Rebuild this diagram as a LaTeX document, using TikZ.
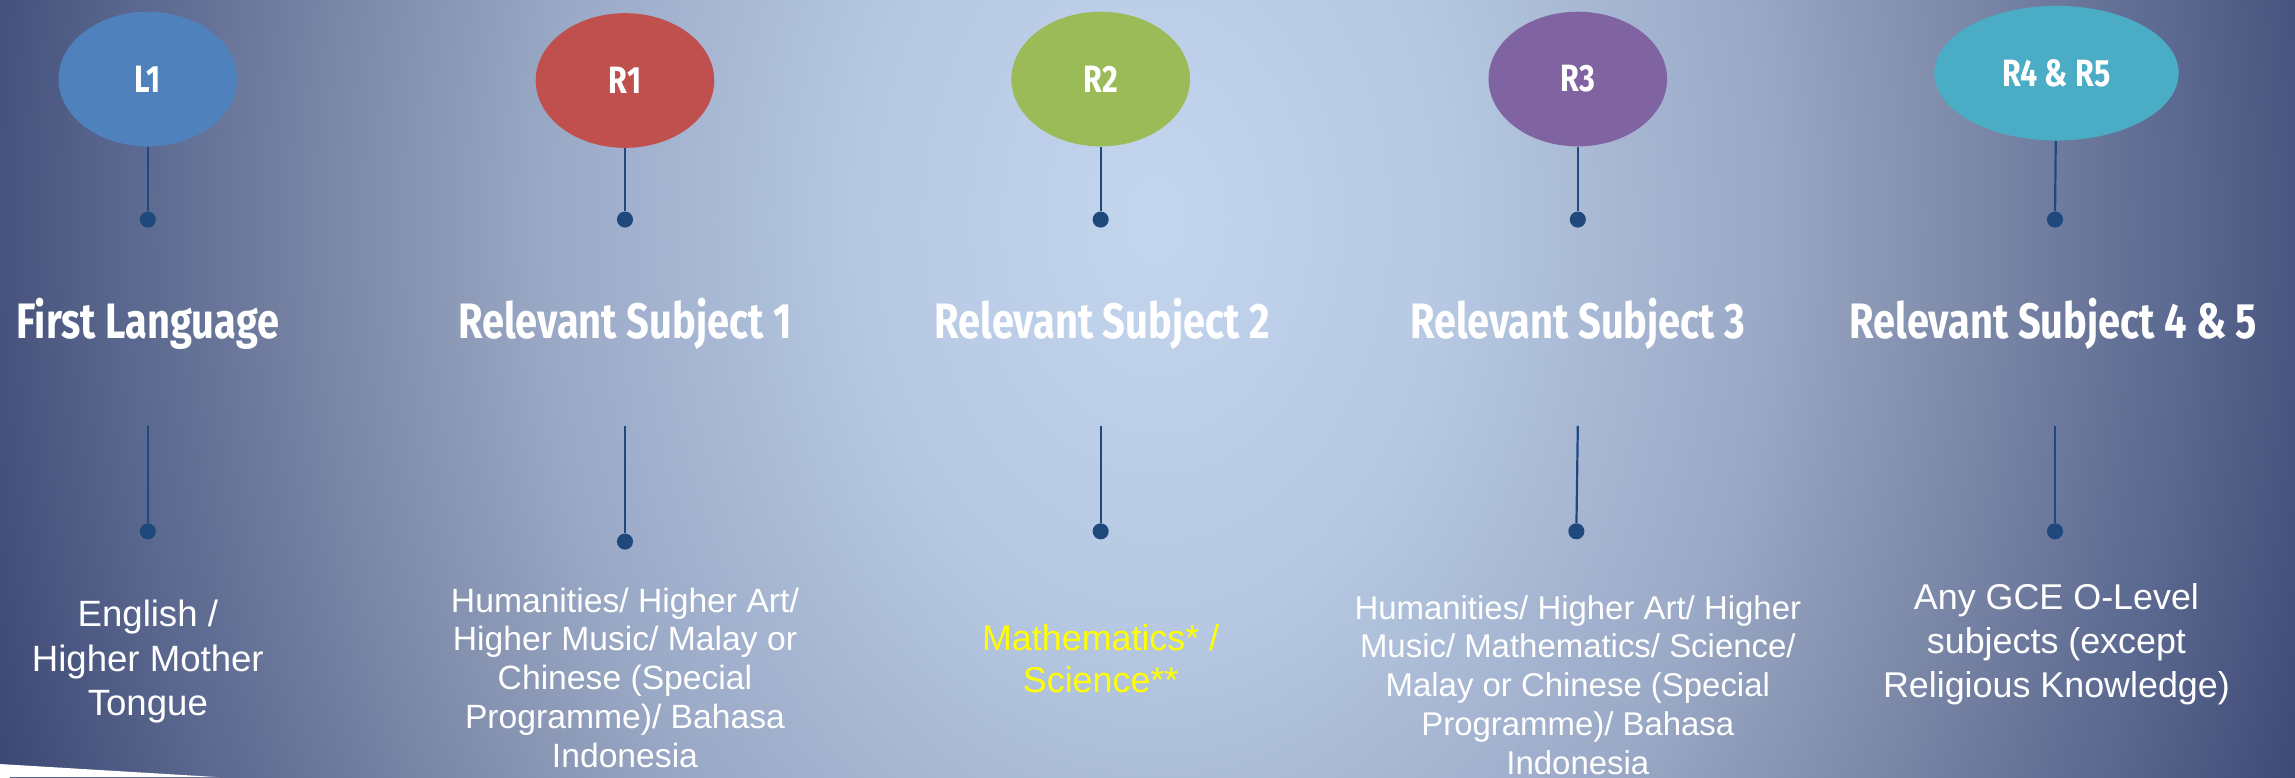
\documentclass[tikz,border=0pt]{standalone}
\usepackage{fontspec}
\setmainfont{Liberation Sans}
\newfontfamily\headfont[FakeStretch=0.8]{Fira Sans}
\usetikzlibrary{shapes.geometric}
\definecolor{bgA}{HTML}{C4D6EE}
\definecolor{bgB}{HTML}{B6C8E2}
\definecolor{bgC}{HTML}{9AA9C6}
\definecolor{bgD}{HTML}{7E8BAA}
\definecolor{bgE}{HTML}{5C6990}
\definecolor{bgdark}{HTML}{3D4974}
\definecolor{stemblue}{HTML}{1F497D}
\definecolor{bubblue}{HTML}{4F81BD}
\definecolor{bubred}{HTML}{C0504D}
\definecolor{bubgreen}{HTML}{9BBB59}
\definecolor{bubpurple}{HTML}{8064A2}
\definecolor{bubteal}{HTML}{4BACC6}
\definecolor{mathyellow}{HTML}{FFFF00}
\pgfdeclareradialshading{bgshade}{\pgfpoint{0bp}{0bp}}{color(0bp)=(bgA); color(6bp)=(bgB); color(12.5bp)=(bgC); color(16.5bp)=(bgD); color(21bp)=(bgE); color(25bp)=(bgdark); color(50bp)=(bgdark)}
\tikzset{
  bubble/.style={ellipse, minimum width=122pt, minimum height=92pt, inner sep=0pt, text=white, font=\headfont\bfseries\fontsize{26}{30}\selectfont},
  stem/.style={draw=stemblue, line width=1.5pt},
  knob/.style={circle, fill=stemblue, minimum size=11pt, inner sep=0pt},
  heading/.style={text=white, font=\headfont\bfseries\fontsize{34}{40}\selectfont},
  subjects/.style={text=white, align=center, font=\fontsize{23}{26.5}\selectfont}
}
\begin{document}
\begin{tikzpicture}[x=1pt, y=-1pt]
\useasboundingbox (0,0) rectangle (1568,531);
\begin{scope}
\clip (0,0) rectangle (1568,531);
\fill[bgdark] (0,0) rectangle (1568,531);
\shade[shading=bgshade] (790,150) ellipse (830 and 1150);
\fill[white] (0,522)--(150,531)--(0,531)--cycle;

\node[bubble, fill=bubblue] (l1) at (101,54) {L1};
\node[bubble, fill=bubred] (r1) at (427,55) {R1};
\node[bubble, fill=bubgreen] (r2) at (752,54) {R2};
\node[bubble, fill=bubpurple] (r3) at (1078,54) {R3};
\node[bubble, fill=bubteal, minimum width=167pt] (r45) at (1405,50) {R4 \& R5};

\node[knob] (l1dot) at (101,150) {};
\node[knob] (r1dot) at (427,150) {};
\node[knob] (r2dot) at (752,150) {};
\node[knob] (r3dot) at (1078,150) {};
\node[knob] (r45dot) at (1404,150) {};
\draw[stem] (l1) -- (l1dot);
\draw[stem] (r1) -- (r1dot);
\draw[stem] (r2) -- (r2dot);
\draw[stem] (r3) -- (r3dot);
\draw[stem] (r45) -- (r45dot);

\node[heading] (l1head) at (101,221) {First Language};
\node[heading] (r1head) at (427,221) {Relevant Subject 1};
\node[heading] (r2head) at (753,221) {Relevant Subject 2};
\node[heading] (r3head) at (1078,221) {Relevant Subject 3};
\node[heading] (r45head) at (1403,221) {Relevant Subject 4 \& 5};

\coordinate (l1top) at (101,291);
\coordinate (r1top) at (427,291);
\coordinate (r2top) at (752,291);
\coordinate (r3top) at (1078,291);
\coordinate (r45top) at (1404,291);
\node[knob] (l1low) at (101,363) {};
\node[knob] (r1low) at (427,370) {};
\node[knob] (r2low) at (752,363) {};
\node[knob] (r3low) at (1077,363) {};
\node[knob] (r45low) at (1404,363) {};
\draw[stem] (l1top) -- (l1low);
\draw[stem] (r1top) -- (r1low);
\draw[stem] (r2top) -- (r2low);
\draw[stem] (r3top) -- (r3low);
\draw[stem] (r45top) -- (r45low);

\node[subjects, font=\fontsize{25}{30.5}\selectfont] (l1text) at (101,452) {English /\\Higher Mother\\Tongue};
\node[subjects] (r1text) at (427,463) {Humanities/ Higher Art/\\Higher Music/ Malay or\\Chinese (Special\\Programme)/ Bahasa\\Indonesia};
\node[subjects, text=mathyellow, font=\fontsize{24.5}{29}\selectfont] (r2text) at (752,450) {Mathematics* /\\Science**};
\node[subjects, font=\fontsize{22.5}{26.5}\selectfont] (r3text) at (1078,468) {Humanities/ Higher Art/ Higher\\Music/ Mathematics/ Science/\\Malay or Chinese (Special\\Programme)/ Bahasa\\Indonesia};
\node[subjects, font=\fontsize{24.5}{30}\selectfont] (r45text) at (1405,440) {Any GCE O-Level\\subjects (except\\Religious Knowledge)};
\end{scope}
\end{tikzpicture}
\end{document}
